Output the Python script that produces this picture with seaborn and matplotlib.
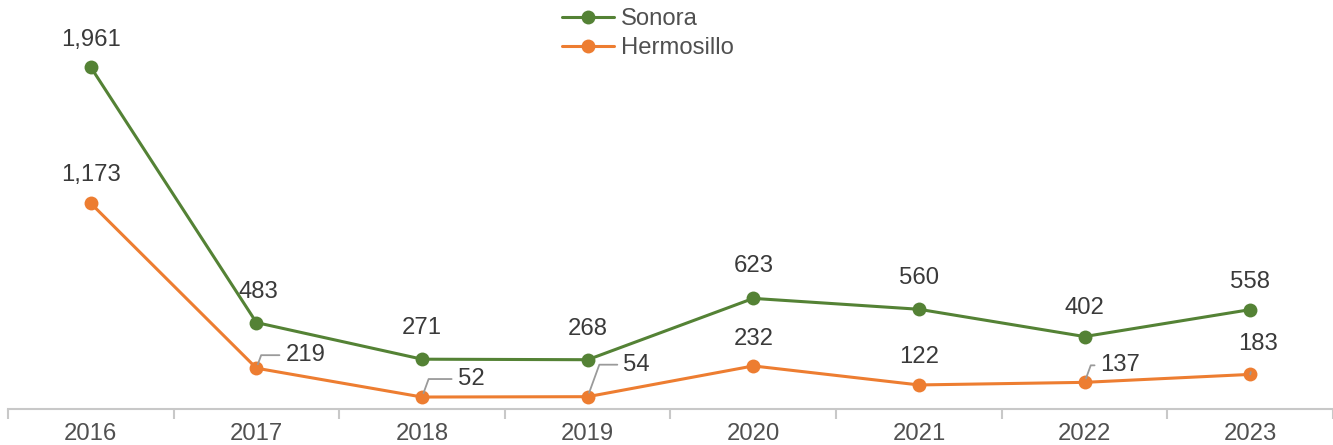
import numpy as np
import pandas as pd
import matplotlib
matplotlib.use("Agg")
import matplotlib.pyplot as plt
import seaborn as sns

years = [2016, 2017, 2018, 2019, 2020, 2021, 2022, 2023]
sonora = [1961, 483, 271, 268, 623, 560, 402, 558]
hermosillo = [1173, 219, 52, 54, 232, 122, 137, 183]
series_names = ["Sonora", "Hermosillo"]

# label offsets in pixels (dx, dy) and whether to draw a leader line
son_off = [(0, 27), (2, 31), (0, 31), (0, 31), (0, 32), (0, 31), (0, 29), (0, 28)]
her_off = [(0, 28), (49, 13), (49, 18), (49, 32), (0, 27), (0, 28), (36, 17), (8, 30)]
her_leader = [False, True, True, True, False, False, True, True]

green = "#548235"
orange = "#ED7D31"

df = pd.DataFrame({
    "year": years * 2,
    "value": sonora + hermosillo,
    "serie": ["Sonora"] * len(years) + ["Hermosillo"] * len(years),
})

sns.set_style("white")
plt.rcParams["font.family"] = ["Liberation Sans", "DejaVu Sans"]

fig = plt.figure(figsize=(13.33, 4.45), dpi=100)
ax = fig.add_axes([0.006, 0.081, 0.994, 0.919])

sns.lineplot(data=df, x="year", y="value", hue="serie", hue_order=series_names,
             palette=[green, orange], marker="o", markersize=10,
             markeredgewidth=0, linewidth=2.2, ax=ax, legend=True)

ax.set_xlim(2015.5, 2023.5)
ax.set_ylim(-17, 2350)
ax.set_xlabel("")
ax.set_ylabel("")
ax.set_yticks([])
for s in ["top", "right", "left"]:
    ax.spines[s].set_visible(False)
ax.spines["bottom"].set_color("#C8C8C8")
ax.spines["bottom"].set_linewidth(1.5)

fs = 17.2
ax.set_xticks(years)
ax.set_xticklabels([str(y) for y in years], fontsize=fs, color="#505050")
ax.tick_params(axis="x", which="major", length=0, pad=10, bottom=True)
ax.set_xticks(np.arange(2015.5, 2024, 1), minor=True)
ax.tick_params(axis="x", which="minor", bottom=True, length=7, width=1.5,
               color="#C8C8C8", direction="out")

txt_color = "#3A3A3A"
for x, v, (dx, dy) in zip(years, sonora, son_off):
    ax.annotate(f"{v:,}", (x, v), xytext=(dx, dy), textcoords="offset pixels",
                ha="center", va="center", fontsize=fs, color=txt_color)

for x, v, (dx, dy), lead in zip(years, hermosillo, her_off, her_leader):
    if lead and dx > 10:
        ax.annotate(f"{v:,}", (x, v), xytext=(dx, dy), textcoords="offset pixels",
                    ha="center", va="center", fontsize=fs, color=txt_color,
                    arrowprops=dict(arrowstyle="-", color="#9A9A9A", lw=1.3,
                                    shrinkA=2, shrinkB=3,
                                    connectionstyle="angle,angleA=0,angleB=70,rad=0"))
    elif lead:
        ax.annotate(f"{v:,}", (x, v), xytext=(dx, dy), textcoords="offset pixels",
                    ha="center", va="center", fontsize=fs, color=txt_color,
                    arrowprops=dict(arrowstyle="-", color="#9A9A9A", lw=1.3,
                                    shrinkA=10, shrinkB=3))
    else:
        ax.annotate(f"{v:,}", (x, v), xytext=(dx, dy), textcoords="offset pixels",
                    ha="center", va="center", fontsize=fs, color=txt_color)

handles, labels = ax.get_legend_handles_labels()
ax.get_legend().remove()
leg = fig.legend(handles, labels, loc="upper center", bbox_to_anchor=(0.486, 1.03),
                 frameon=False, fontsize=fs, handlelength=2.2, labelspacing=0.3,
                 handletextpad=0.3)
for t in leg.get_texts():
    t.set_color("#505050")

fig.savefig("out.png", dpi=100)
